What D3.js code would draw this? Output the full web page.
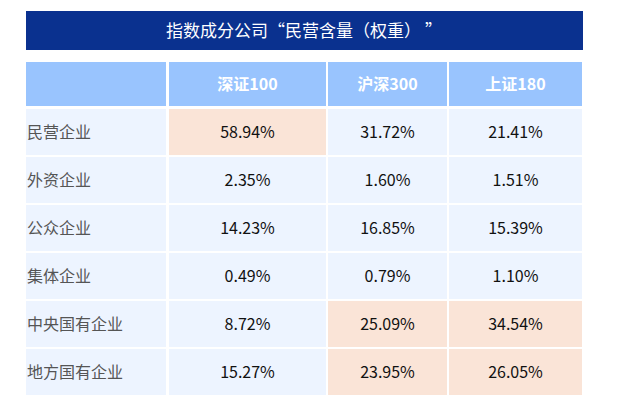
<!DOCTYPE html>
<html><head><meta charset="utf-8">
<script src="https://cdn.jsdelivr.net/npm/d3@7"></script>
<style>body{margin:0;background:#fff;font-family:"Noto Sans CJK SC","Noto Sans",sans-serif}</style>
</head><body><svg id="c" width="619" height="411"></svg>
<script>
const title = "指数成分公司\u201c民营含量（权重）  \u201d";
const columns = ["深证100", "沪深300", "上证180"];
const categories = ["民营企业", "外资企业", "公众企业", "集体企业", "中央国有企业", "地方国有企业"];
const sz100 = [58.94, 2.35, 14.23, 0.49, 8.72, 15.27];
const hs300 = [31.72, 1.60, 16.85, 0.79, 25.09, 23.95];
const sh180 = [21.41, 1.51, 15.39, 1.10, 34.54, 26.05];
// cells highlighted in the original
const highlight = [[0, 0], [4, 1], [4, 2], [5, 1], [5, 2]];

const series = [sz100, hs300, sh180];
const svg = d3.select("#c");

svg.append("rect").attr("x", 26).attr("y", 11).attr("width", 557).attr("height", 39).attr("fill", "#0a318f");
svg.append("text").attr("x", 304).attr("y", 37).attr("text-anchor", "middle")
  .attr("fill", "#fff").attr("font-size", 17).text(title);

const xEdges = [26, 168, 327, 448, 583];
const y = d3.scaleBand().domain(d3.range(categories.length)).range([109, 395]).paddingInner(0.04);

// header
svg.selectAll(".hd").data(d3.range(4)).join("rect")
  .attr("x", i => xEdges[i] + (i ? 1 : 0)).attr("y", 62)
  .attr("width", i => xEdges[i + 1] - xEdges[i] - 2).attr("height", 44).attr("fill", "#99c4fe");
svg.selectAll(".ht").data(columns).join("text")
  .attr("x", (d, i) => (xEdges[i + 1] + xEdges[i + 2]) / 2).attr("y", 90)
  .attr("text-anchor", "middle").attr("fill", "#fff").attr("font-size", 16).attr("font-weight", "bold")
  .text(d => d);

const isHi = (r, c) => highlight.some(h => h[0] === r && h[1] === c);

categories.forEach((cat, r) => {
  const g = svg.append("g");
  g.selectAll("rect").data(d3.range(4)).join("rect")
    .attr("x", i => xEdges[i] + (i ? 1 : 0)).attr("y", y(r))
    .attr("width", i => xEdges[i + 1] - xEdges[i] - 2).attr("height", y.bandwidth())
    .attr("fill", i => i && isHi(r, i - 1) ? "#fae4d7" : "#edf4ff");
  g.append("text").attr("x", 27).attr("y", y(r) + y.bandwidth() / 2 + 6)
    .attr("fill", "#555").attr("font-size", 16).text(cat);
  series.forEach((s, c) => {
    g.append("text").attr("x", (xEdges[c + 1] + xEdges[c + 2]) / 2).attr("y", y(r) + y.bandwidth() / 2 + 6)
      .attr("text-anchor", "middle").attr("fill", "#111").attr("font-size", 16)
      .text(s[r].toFixed(2) + "%");
  });
});
</script></body></html>
